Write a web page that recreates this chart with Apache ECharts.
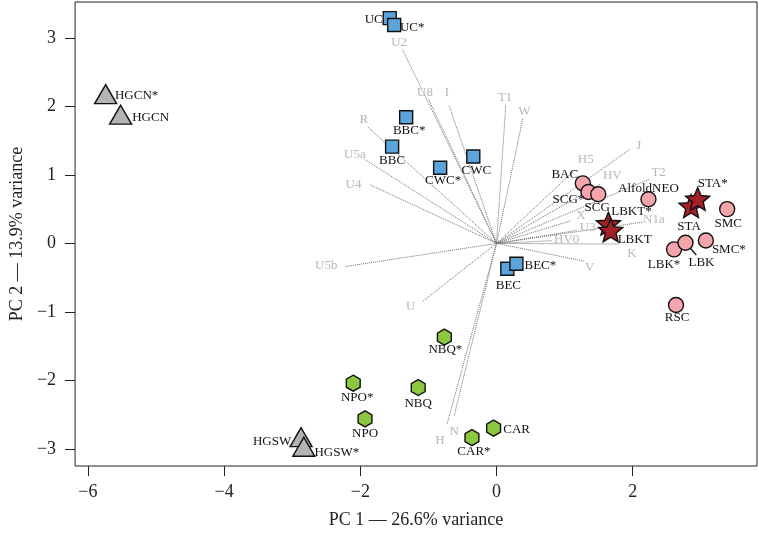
<!DOCTYPE html>
<html><head><meta charset="utf-8">
<script src="https://cdn.jsdelivr.net/npm/echarts@6/dist/echarts.min.js"></script>
<style>html,body{margin:0;padding:0;background:#fff}#c{width:759px;height:534px}</style>
</head><body><div id="c"></div>
<script>
// ---- data ----
const xTicks = [-6, -4, -2, 0, 2];
const yTicks = [-3, -2, -1, 0, 1, 2, 3];

const triNames = ['HGCN*', 'HGCN', 'HGSW', 'HGSW*'];
const triPC1 = [-5.74, -5.52, -2.87, -2.83];
const triPC2 = [2.18, 1.88, -2.83, -2.97];

const sqNames = ['UC', 'UC*', 'BBC*', 'BBC', 'CWC*', 'CWC', 'BEC', 'BEC*'];
const sqPC1 = [-1.568, -1.503, -1.327, -1.533, -0.828, -0.341, 0.159, 0.292];
const sqPC2 = [3.29, 3.19, 1.842, 1.413, 1.105, 1.269, -0.371, -0.296];

const hexNames = ['NBQ*', 'NPO*', 'NBQ', 'NPO', 'CAR', 'CAR*'];
const hexPC1 = [-0.766, -2.104, -1.150, -1.931, -0.043, -0.361];
const hexPC2 = [-1.368, -2.042, -2.105, -2.562, -2.698, -2.837];

const cirNames = ['BAC', 'SCG*', 'SCG', 'AlfoldNEO', 'SMC', 'LBK*', 'LBK', 'SMC*', 'RSC'];
const cirPC1 = [1.267, 1.350, 1.494, 2.231, 3.387, 2.607, 2.775, 3.074, 2.636];
const cirPC2 = [0.877, 0.751, 0.718, 0.646, 0.501, -0.087, 0.010, 0.043, -0.900];

const starNames = ['LBKT*', 'LBKT', 'STA', 'STA*'];
const starPC1 = [1.643, 1.676, 2.857, 2.954];
const starPC2 = [0.289, 0.192, 0.545, 0.650];

const loadNames = ['U2', 'U8', 'I', 'T1', 'W', 'R', 'U5a', 'U4', 'U5b', 'U', 'H', 'N', 'J', 'H5', 'HV', 'T2', 'X', 'U3', 'N1a', 'HV0', 'K', 'V'];
const loadPC1 = [-1.38, -1.00, -0.70, 0.136, 0.386, -1.89, -1.94, -1.86, -2.23, -1.09, -0.73, -0.62, 1.97, 1.15, 1.53, 2.25, 1.09, 1.18, 2.14, 0.82, 1.80, 1.29];
const loadPC2 = [2.83, 2.11, 2.02, 2.02, 1.82, 1.70, 1.23, 0.857, -0.34, -0.85, -2.65, -2.51, 1.38, 1.07, 0.87, 0.94, 0.33, 0.19, 0.31, 0.04, -0.01, -0.26];
const loadLabelPC1 = [-1.43, -1.05, -0.73, 0.126, 0.41, -1.95, -2.08, -2.10, -2.50, -1.26, -0.83, -0.62, 2.09, 1.31, 1.70, 2.38, 1.24, 1.34, 2.31, 1.03, 1.99, 1.37];
const loadLabelPC2 = [2.93, 2.20, 2.20, 2.13, 1.92, 1.81, 1.30, 0.857, -0.32, -0.92, -2.88, -2.75, 1.43, 1.23, 0.99, 1.03, 0.40, 0.23, 0.35, 0.06, -0.155, -0.35];

// ---- styling (label offsets in px relative to the mark centre) ----
const labelOffsets = {
  'HGCN*': [31, 1], 'HGCN': [30, 3], 'HGSW': [-29, 4], 'HGSW*': [33, 6],
  'UC': [-16, 1], 'UC*': [18, 3], 'BBC*': [3, 13], 'BBC': [0, 14], 'CWC*': [3, 13], 'CWC': [3, 14], 'BEC': [1, 17], 'BEC*': [24, 2],
  'NBQ*': [1, 13], 'NPO*': [4, 14], 'NBQ': [0, 16], 'NPO': [0, 15], 'CAR': [23, 1], 'CAR*': [2, 14],
  'BAC': [-18, -9], 'SCG*': [-20, 8], 'SCG': [-1, 13], 'AlfoldNEO': [0, -11], 'SMC': [1, 14], 'LBK*': [-10, 15], 'LBK': [16, 20], 'SMC*': [23, 9], 'RSC': [1, 13],
  'LBKT*': [23, -12], 'LBKT': [24, 9], 'STA': [-2, 20], 'STA*': [15, -15]
};
const leaderNames = ['LBK'];
const FONT = '"Liberation Serif", "DejaVu Serif", serif';

function hexPath() {
  const p = [];
  for (let k = 0; k < 6; k++) { const a = (-90 + 60 * k) * Math.PI / 180; p.push((Math.cos(a)).toFixed(4) + ',' + (Math.sin(a)).toFixed(4)); }
  return 'path://M' + p.join(' L') + ' Z';
}
function starPath() {
  const p = [];
  for (let k = 0; k < 10; k++) { const r = k % 2 ? 0.45 : 1; const a = (-90 + 36 * k) * Math.PI / 180; p.push((r * Math.cos(a)).toFixed(4) + ',' + (r * Math.sin(a)).toFixed(4)); }
  return 'path://M' + p.join(' L') + ' Z';
}

function pointSeries(names, xs, ys, symbol, size, color) {
  return {
    type: 'scatter', symbol: symbol, symbolSize: size, symbolKeepAspect: true,
    itemStyle: { color: color, borderColor: '#111', borderWidth: 1.4, opacity: 1 },
    label: { show: true, position: 'inside', formatter: p => p.name, color: '#111', fontFamily: FONT, fontSize: 13 },
    emphasis: { disabled: true },
    labelLayout: function (params) {
      const o = labelOffsets[params.text] || [0, 0];
      return { dx: o[0], dy: o[1] };
    },
    data: names.map((n, i) => ({ name: n, value: [xs[i], ys[i]] })),
    z: 5
  };
}

const chart = echarts.init(document.getElementById('c'), null, { renderer: 'canvas' });
const axisText = { color: '#222', fontFamily: FONT, fontSize: 18 };
chart.setOption({
  animation: false,
  backgroundColor: '#fff',
  grid: { left: 64, right: 2, top: 2, bottom: 63, show: true, borderColor: '#222', borderWidth: 1, backgroundColor: 'transparent' },
  xAxis: {
    type: 'value', min: -6.189, max: 3.825,
    name: 'PC 1 — 26.6% variance', nameLocation: 'middle', nameGap: 45,
    nameTextStyle: axisText,
    axisLine: { show: false, onZero: false },
    axisTick: { show: true, length: 10, inside: false, customValues: xTicks, lineStyle: { color: '#222', width: 1 } },
    axisLabel: { show: true, customValues: xTicks, margin: 17, formatter: v => String(v).replace('-', '\u2212'), ...axisText },
    splitLine: { show: false }
  },
  yAxis: {
    type: 'value', min: -3.251, max: 3.526,
    name: 'PC 2 — 13.9% variance', nameLocation: 'middle', nameGap: 48, nameRotate: 90,
    nameTextStyle: axisText,
    axisLine: { show: false, onZero: false },
    axisTick: { show: true, length: 10, inside: false, customValues: yTicks, lineStyle: { color: '#222', width: 1 } },
    axisLabel: { show: true, customValues: yTicks, margin: 19, formatter: v => String(v).replace('-', '\u2212'), ...axisText },
    splitLine: { show: false }
  },
  series: [
    {
      type: 'lines', coordinateSystem: 'cartesian2d', silent: true,
      lineStyle: { type: 'dotted', color: '#6e6e6e', width: 1, opacity: 1 },
      data: loadNames.map((n, i) => ({ coords: [[0, 0], [loadPC1[i], loadPC2[i]]] })),
      z: 1
    },
    {
      type: 'scatter', symbol: 'circle', symbolSize: 1, silent: true,
      itemStyle: { color: 'rgba(0,0,0,0)' },
      label: { show: true, position: 'inside', formatter: p => p.name, color: '#a6a6a6', fontFamily: FONT, fontSize: 13 },
      data: loadNames.map((n, i) => ({ name: n, value: [loadLabelPC1[i], loadLabelPC2[i]] })),
      z: 2
    },
    pointSeries(triNames, triPC1, triPC2, 'triangle', [22, 19], '#b3b3b3'),
    pointSeries(sqNames, sqPC1, sqPC2, 'rect', 13, '#5ba5dc'),
    pointSeries(hexNames, hexPC1, hexPC2, hexPath(), 16, '#8dc63f'),
    pointSeries(cirNames, cirPC1, cirPC2, 'circle', 15, '#f4a4ab'),
    pointSeries(starNames, starPC1, starPC2, starPath(), 24, '#a41f26')
  ]
});

// leader lines from a point towards its moved label (drawn beneath the markers)
const leaders = [];
leaderNames.forEach(n => {
  const i = cirNames.indexOf(n);
  const p = chart.convertToPixel({ gridIndex: 0 }, [cirPC1[i], cirPC2[i]]);
  const o = labelOffsets[n];
  leaders.push({ type: 'line', z: 4, silent: true,
    shape: { x1: p[0], y1: p[1], x2: p[0] + o[0] * 0.68, y2: p[1] + o[1] * 0.62 },
    style: { stroke: '#111', lineWidth: 1.5 } });
});
chart.setOption({ graphic: leaders });
</script>
</body></html>
